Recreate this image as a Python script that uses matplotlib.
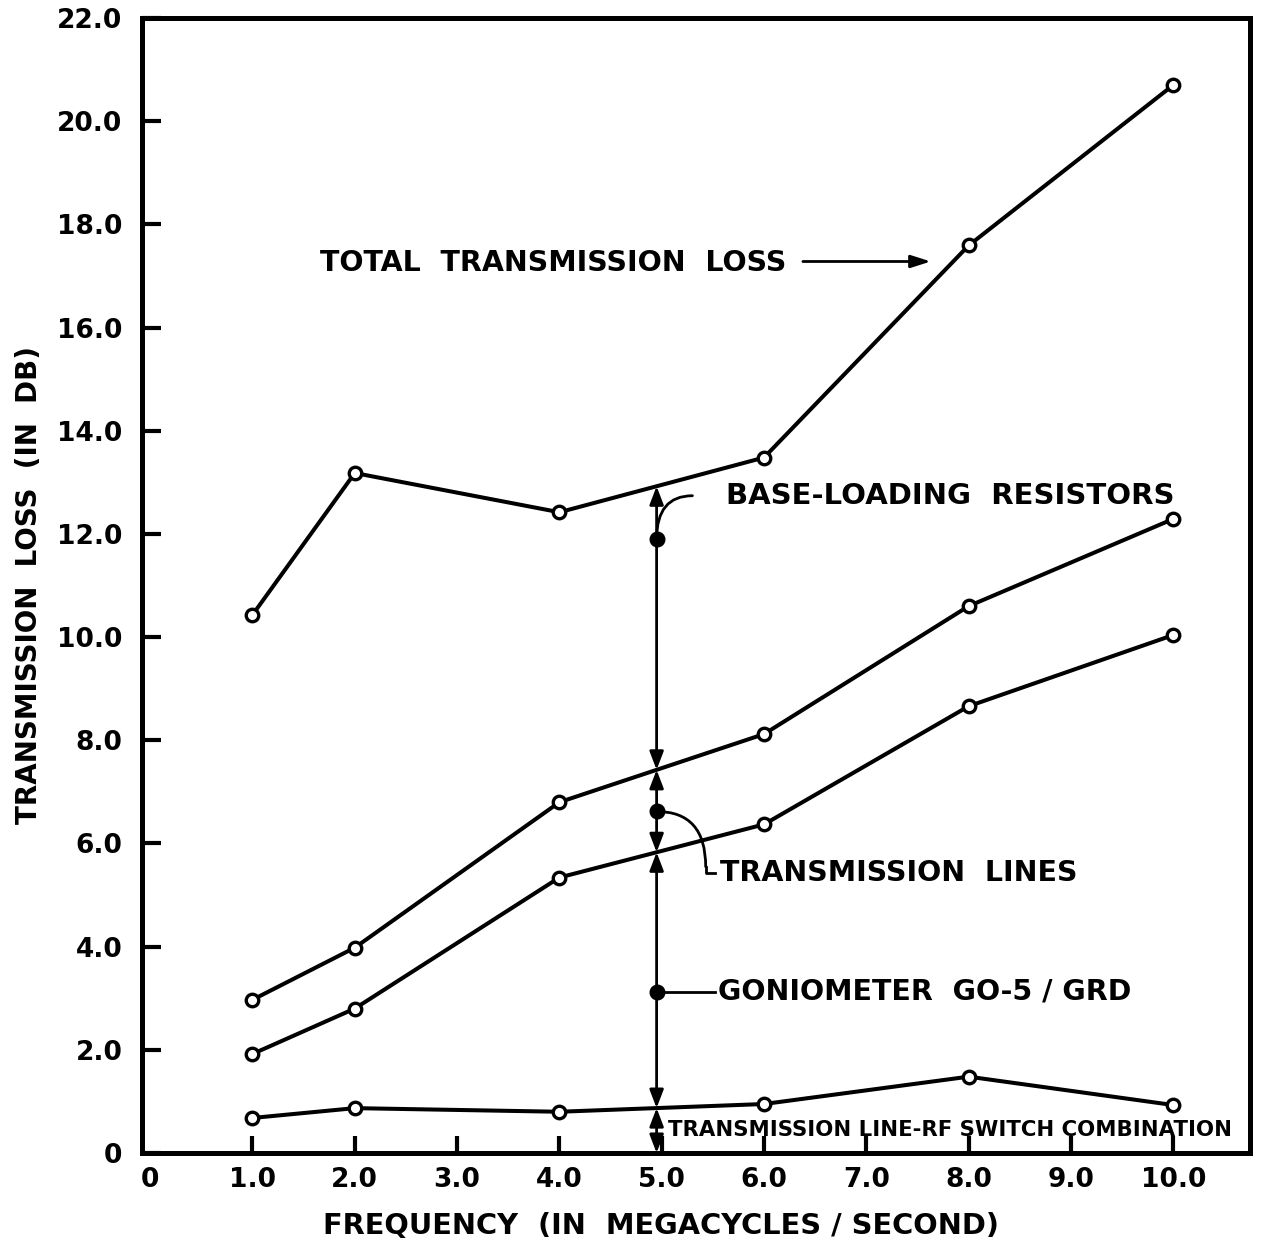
"""Transmission loss vs frequency, redrawn from a scanned report figure."""

import matplotlib
matplotlib.use('Agg')
import matplotlib.pyplot as plt
import numpy as np

# ── Data ────────────────────────────────────────────────────────────────────
freq = [1.0, 2.0, 4.0, 6.0, 8.0, 10.0]
total_loss = [10.43, 13.18, 12.42, 13.48, 17.59, 20.70]
base_loading = [2.97, 3.98, 6.80, 8.12, 10.60, 12.29]
trans_lines = [1.92, 2.80, 5.34, 6.37, 8.66, 10.04]
line_rf_switch = [0.68, 0.87, 0.80, 0.95, 1.48, 0.93]

x_ticks = [0, 1, 2, 3, 4, 5, 6, 7, 8, 9, 10]
x_ticklabels = ['0', '1.0', '2.0', '3.0', '4.0', '5.0', '6.0', '7.0', '8.0', '9.0', '10.0']
y_ticks = [0, 2, 4, 6, 8, 10, 12, 14, 16, 18, 20, 22]
y_ticklabels = ['0'] + [f'{v:.1f}' for v in y_ticks[1:]]

MARK_X = 4.95  # where the breakdown arrows sit
dot_levels = [11.9, 6.62, 3.13]  # base-loading, transmission lines, goniometer

FONT = 'DejaVu Sans'
LW = 2.9
ARROW = 'head_length=1.1,head_width=0.42'

fig = plt.figure(figsize=(12.62, 12.48), dpi=100)
ax = fig.add_axes([0.1125, 0.0761, 0.878, 0.9095])

for ys in (total_loss, base_loading, trans_lines, line_rf_switch):
    ax.plot(freq, ys, color='black', lw=LW, marker='o', ms=9,
            mfc='white', mec='black', mew=2.4, zorder=3)

# ── Breakdown arrows at 5 Mc ────────────────────────────────────────────────
levels = [float(np.interp(MARK_X, freq, s))
          for s in (total_loss, base_loading, trans_lines, line_rf_switch)] + [0.0]
for top, bot in zip(levels[:-1], levels[1:]):
    ax.annotate('', xy=(MARK_X, top), xytext=(MARK_X, bot),
                arrowprops=dict(arrowstyle='<|-|>,' + ARROW,
                                color='black', lw=2.0, shrinkA=0, shrinkB=0),
                zorder=4)

ax.plot([MARK_X] * len(dot_levels), dot_levels, 'o', color='black', ms=10.5, zorder=5)

# leaders
ax.annotate('', xy=(5.30, 12.74), xytext=(MARK_X, dot_levels[0]),
            arrowprops=dict(arrowstyle='-', color='black', lw=2.0, shrinkA=0, shrinkB=0,
                            connectionstyle='angle3,angleA=90,angleB=0'))
ax.annotate('', xy=(5.43, 5.55), xytext=(MARK_X, dot_levels[1]),
            arrowprops=dict(arrowstyle='-', color='black', lw=2.0, shrinkA=0, shrinkB=0,
                            connectionstyle='angle3,angleA=0,angleB=90'))
ax.plot([5.43, 5.43, 5.52], [5.55, 5.42, 5.42], color='black', lw=2.0)
ax.plot([MARK_X, 5.52], [dot_levels[2], dot_levels[2]], color='black', lw=2.0)

# ── Labels inside the plot ─────────────────────────────────────────────────
kw = dict(fontfamily=FONT, fontweight='bold', color='black', va='center')
ax.text(1.66, 17.25, 'TOTAL  TRANSMISSION  LOSS', fontsize=20.5, ha='left', **kw)
ax.annotate('', xy=(7.63, 17.28), xytext=(6.38, 17.28),
            arrowprops=dict(arrowstyle='-|>,head_length=1.2,head_width=0.38',
                            color='black', lw=2.0, shrinkA=0, shrinkB=0))
ax.text(5.63, 12.74, 'BASE-LOADING  RESISTORS', fontsize=21, ha='left', **kw)
ax.text(5.57, 5.42, 'TRANSMISSION  LINES', fontsize=20.5, ha='left', **kw)
ax.text(5.55, 3.13, 'GONIOMETER  GO-5 / GRD', fontsize=20.5, ha='left', **kw)
ax.text(5.06, 0.45, 'TRANSMISSION LINE-RF SWITCH COMBINATION', fontsize=15.3,
        ha='left', **kw)

# ── Axes styling ────────────────────────────────────────────────────────────
ax.set_xlim(-0.08, 10.75)
ax.set_ylim(0, 22)
ax.set_xticks(x_ticks)
ax.set_xticklabels(x_ticklabels)
ax.set_yticks(y_ticks)
ax.set_yticklabels(y_ticklabels)
ax.tick_params(axis='both', direction='in', width=3, colors='black',
               labelsize=19)
ax.tick_params(axis='x', length=12, pad=10)
ax.tick_params(axis='y', length=14, pad=14)
ax.xaxis.get_major_ticks()[0].tick1line.set_visible(False)
for lab in ax.get_xticklabels() + ax.get_yticklabels():
    lab.set_fontweight('bold')
    lab.set_fontfamily(FONT)

for spine in ax.spines.values():
    spine.set_linewidth(3.6)
    spine.set_color('black')

ax.set_xlabel('FREQUENCY  (IN  MEGACYCLES / SECOND)', fontsize=20.8,
              fontweight='bold', fontfamily=FONT, labelpad=12)
ax.xaxis.set_label_coords(0.468, -0.052)
ax.set_ylabel('TRANSMISSION  LOSS  (IN  DB)', fontsize=20,
              fontweight='bold', fontfamily=FONT, labelpad=10)

fig.savefig('out.png', dpi=100, facecolor='white')
